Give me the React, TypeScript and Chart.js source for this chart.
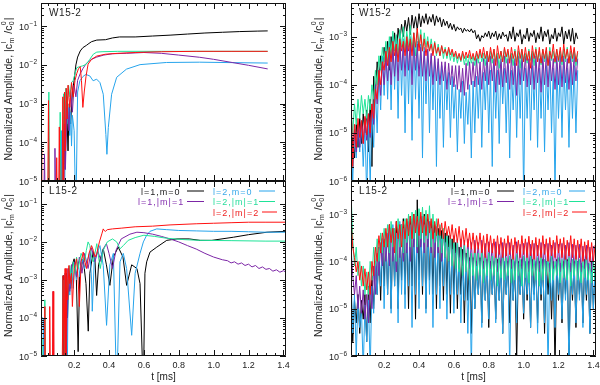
import React, { useEffect, useRef } from 'react';
import { Chart, registerables } from 'chart.js';

Chart.register(...registerables);

// ---------------- axes / labels ----------------
const X_MIN = 0.01;
const X_MAX = 1.415;
const X_TICKS = [0.2, 0.4, 0.6, 0.8, 1.0, 1.2, 1.4];
const X_TICK_LABELS = ['0.2', '0.4', '0.6', '0.8', '1.0', '1.2', '1.4'];
const X_TITLE = 't [ms]';
const Y_EXP_LEFT = [-1, -2, -3, -4, -5];
const Y_EXP_RIGHT = [-3, -4, -5, -6];
const Y_TITLE_MAIN = 'Normalized Amplitude, |c';
const SERIES_NAMES = ['l=1,m=0', 'l=2,m=0', 'l=1,|m|=1', 'l=2,|m|=1', 'l=2,|m|=2'];
const MODEL_NAMES = ['W15-2', 'L15-2'];

// ---------------- left column: W15-2 (top) [t, value] ----------------
const WL_L1M0: [number, number][] = [[0.13,1e-6],[0.14,3e-4],[0.148,2e-5],[0.157,9e-4],[0.165,6e-5],[0.172,1e-3],[0.18,3e-4],[0.19,2e-3],[0.2,4e-3],[0.21,1e-2],[0.22,1.6e-2],[0.235,2.3e-2],[0.25,2.8e-2],[0.27,3.2e-2],[0.285,3.6e-2],[0.3,4e-2],[0.33,4.4e-2],[0.38,4.5e-2],[0.42,5e-2],[0.46,5.3e-2],[0.55,5.3e-2],[0.65,5.6e-2],[0.75,5.9e-2],[0.85,6.3e-2],[0.95,6.7e-2],[1.05,7e-2],[1.15,7.3e-2],[1.25,7.5e-2],[1.31,7.6e-2]];
const WL_L2M0: [number, number][] = [[0.12,1e-6],[0.125,2e-4],[0.13,1e-6],[0.145,1e-6],[0.15,1.2e-3],[0.155,4e-4],[0.16,1e-3],[0.165,3e-4],[0.17,8e-4],[0.175,1.5e-4],[0.18,6e-4],[0.185,8e-5],[0.19,5e-4],[0.2,2e-4],[0.21,1e-6],[0.22,2e-3],[0.233,3.9e-3],[0.25,5e-3],[0.267,5.7e-3],[0.29,5.2e-3],[0.309,3.9e-3],[0.329,4.3e-3],[0.348,3.5e-3],[0.367,1.75e-3],[0.382,1.6e-4],[0.388,4.9e-5],[0.396,2.4e-4],[0.415,1.75e-3],[0.444,4.8e-3],[0.5,7.8e-3],[0.578,1.02e-2],[0.73,1.16e-2],[0.92,1.18e-2],[1.1,1.15e-2],[1.31,1.12e-2]];
const WL_L1M1: [number, number][] = [[0.025,1e-6],[0.03,5e-5],[0.035,1e-6],[0.085,1e-6],[0.09,7e-5],[0.095,1e-6],[0.14,1e-6],[0.145,5e-4],[0.15,2e-5],[0.16,1.5e-3],[0.17,2e-4],[0.18,2.2e-3],[0.19,6e-4],[0.2,3e-3],[0.21,1.5e-3],[0.22,4e-3],[0.235,6e-3],[0.25,8e-3],[0.27,1.1e-2],[0.3,1.4e-2],[0.33,1.6e-2],[0.37,1.8e-2],[0.42,1.95e-2],[0.5,2e-2],[0.6,2.1e-2],[0.7,2e-2],[0.8,1.8e-2],[0.92,1.58e-2],[1.0,1.4e-2],[1.11,1.15e-2],[1.2,9.8e-3],[1.31,7.9e-3]];
const WL_L2M1: [number, number][] = [[0.01,1e-6],[0.05,1e-6],[0.055,2e-3],[0.06,1e-6],[0.115,1e-6],[0.12,6e-4],[0.125,1e-6],[0.135,1e-6],[0.14,1.8e-3],[0.145,3e-4],[0.152,2.5e-3],[0.16,8e-4],[0.168,3e-3],[0.176,1.5e-3],[0.185,3.5e-3],[0.195,4e-3],[0.205,6e-3],[0.215,8.5e-3],[0.23,9e-3],[0.25,9.5e-3],[0.27,1.05e-2],[0.29,1.4e-2],[0.31,1.9e-2],[0.33,2.15e-2],[0.36,2.2e-2],[0.45,2.25e-2],[0.7,2.25e-2],[1.0,2.25e-2],[1.31,2.25e-2]];
const WL_L2M2: [number, number][] = [[0.01,7e-5],[0.014,1e-6],[0.048,1e-6],[0.053,1.2e-3],[0.058,1e-6],[0.095,1e-6],[0.1,4e-5],[0.105,1e-6],[0.11,1e-6],[0.115,2.5e-4],[0.12,1e-6],[0.13,1e-6],[0.135,1.5e-3],[0.14,1e-5],[0.145,2e-3],[0.15,6e-5],[0.155,2.5e-3],[0.16,4e-4],[0.165,3e-3],[0.175,8e-4],[0.185,3.5e-3],[0.195,1.5e-3],[0.205,4e-3],[0.215,6e-3],[0.225,8e-3],[0.235,9e-3],[0.242,4e-3],[0.25,8e-4],[0.258,2e-3],[0.268,5e-3],[0.28,1.05e-2],[0.3,1.4e-2],[0.33,1.7e-2],[0.38,1.9e-2],[0.45,2e-2],[0.55,2.1e-2],[0.7,2.2e-2],[0.9,2.25e-2],[1.1,2.25e-2],[1.31,2.25e-2]];

// ---------------- left column: L15-2 (bottom) [t, value] ----------------
const LL_L1M0: [number, number][] = [[0.01,1e-6],[0.133,1e-6],[0.137,1.3e-3],[0.141,1e-6],[0.152,1e-6],[0.156,1.5e-3],[0.162,1e-4],[0.17,2e-3],[0.18,6e-4],[0.19,2.5e-3],[0.2,3.6e-3],[0.212,1.5e-3],[0.223,1.3e-5],[0.232,1.5e-3],[0.252,3.6e-3],[0.268,8e-4],[0.281,4.5e-5],[0.29,1.5e-3],[0.309,5.4e-3],[0.32,3e-3],[0.329,3.9e-4],[0.34,2.5e-3],[0.367,6.6e-3],[0.385,2.5e-3],[0.405,7.2e-4],[0.425,4e-3],[0.453,7.3e-3],[0.48,4e-3],[0.501,7.2e-4],[0.53,2.5e-3],[0.56,2e-3],[0.578,8e-4],[0.597,1e-6],[0.606,1.5e-3],[0.616,3e-3],[0.635,5.4e-3],[0.674,7.3e-3],[0.731,1.1e-2],[0.79,1.2e-2],[0.86,1.2e-2],[0.922,1.1e-2],[0.99,1.1e-2],[1.114,1.33e-2],[1.2,1.55e-2],[1.306,1.8e-2],[1.415,1.9e-2]];
const LL_L2M0: [number, number][] = [[0.01,4e-5],[0.013,1e-4],[0.022,1e-4],[0.025,1e-6],[0.14,1e-6],[0.147,1e-3],[0.152,1e-6],[0.16,1e-6],[0.166,1.8e-3],[0.175,4e-4],[0.185,2.2e-3],[0.195,6e-4],[0.204,2.5e-3],[0.214,1e-3],[0.223,3e-3],[0.233,1.2e-3],[0.245,3.5e-3],[0.26,2e-3],[0.29,5.4e-3],[0.3,1e-3],[0.304,1.5e-4],[0.315,3e-3],[0.348,8e-3],[0.367,2.4e-3],[0.386,6.4e-5],[0.405,2.5e-3],[0.425,5e-3],[0.444,1e-6],[0.463,3e-3],[0.482,5e-3],[0.501,2e-3],[0.53,3.5e-5],[0.55,1.5e-3],[0.578,5e-3],[0.597,1e-2],[0.616,1.5e-2],[0.635,1.9e-2],[0.674,2.2e-2],[0.731,2.1e-2],[0.8,2e-2],[0.9,1.95e-2],[1.0,1.9e-2],[1.1,1.9e-2],[1.2,1.85e-2],[1.3,1.8e-2],[1.415,1.8e-2]];
const LL_L1M1: [number, number][] = [[0.01,1e-6],[0.075,1e-6],[0.08,5e-4],[0.085,1e-6],[0.14,1e-6],[0.148,1.5e-3],[0.155,1e-5],[0.165,2e-3],[0.175,5e-4],[0.185,2.5e-3],[0.2,3e-3],[0.214,1.2e-3],[0.23,4e-3],[0.245,1.5e-3],[0.26,5e-3],[0.28,2e-3],[0.3,7e-3],[0.32,3e-3],[0.335,6e-3],[0.355,3e-3],[0.37,7e-3],[0.385,9e-3],[0.4,5e-3],[0.42,2e-3],[0.44,6e-3],[0.47,1.2e-2],[0.52,1.6e-2],[0.56,1.8e-2],[0.6,1.75e-2],[0.65,1.6e-2],[0.7,1.4e-2],[0.75,1.2e-2],[0.8,1e-2],[0.85,8e-3],[0.9,6.5e-3],[0.95,5e-3],[1.0,4e-3],[1.05,3.4e-3],[1.08,3.2e-3],[1.1,2.8e-3],[1.12,3e-3],[1.14,2.6e-3],[1.16,2.8e-3],[1.18,2.4e-3],[1.2,2.6e-3],[1.22,2.2e-3],[1.24,2.4e-3],[1.26,2e-3],[1.28,2.2e-3],[1.3,1.9e-3],[1.32,2e-3],[1.34,1.7e-3],[1.36,1.85e-3],[1.38,1.6e-3],[1.4,1.75e-3],[1.415,1.6e-3]];
const LL_L2M1: [number, number][] = [[0.01,1e-6],[0.015,3e-5],[0.02,1e-6],[0.028,1e-6],[0.032,3e-4],[0.036,1e-6],[0.13,1e-6],[0.14,1e-3],[0.145,1e-5],[0.15,1.5e-3],[0.16,5e-4],[0.175,2.4e-3],[0.185,1e-3],[0.195,3e-3],[0.204,1.5e-3],[0.214,4e-3],[0.223,2e-3],[0.24,5e-3],[0.26,3e-3],[0.27,6e-3],[0.28,1e-2],[0.29,8e-3],[0.3,4e-3],[0.31,3e-3],[0.33,9e-3],[0.34,4e-3],[0.35,2e-3],[0.367,6e-3],[0.39,1e-2],[0.42,1.2e-2],[0.444,1e-2],[0.463,6.6e-3],[0.482,8e-3],[0.51,1.1e-2],[0.55,1.3e-2],[0.6,1.5e-2],[0.66,1.4e-2],[0.73,1.25e-2],[0.83,1.15e-2],[0.92,1.1e-2],[1.1,1.08e-2],[1.3,1.05e-2],[1.415,1.05e-2]];
const LL_L2M2: [number, number][] = [[0.01,1e-6],[0.028,1e-6],[0.032,2e-4],[0.036,1e-6],[0.056,1e-6],[0.06,2e-4],[0.064,1e-6],[0.075,1e-6],[0.079,5e-4],[0.083,1e-6],[0.13,1e-6],[0.137,1.3e-3],[0.142,1e-5],[0.148,2e-3],[0.152,1e-6],[0.158,2e-3],[0.163,3e-4],[0.17,2.4e-3],[0.175,8e-4],[0.185,1.5e-3],[0.19,2e-4],[0.2,2e-3],[0.214,3.6e-3],[0.223,1e-3],[0.23,2e-4],[0.24,3e-3],[0.252,5.4e-3],[0.262,3e-3],[0.271,2e-3],[0.285,5e-3],[0.3,8e-3],[0.31,6e-3],[0.32,4e-3],[0.33,5e-3],[0.345,1e-2],[0.36,1.7e-2],[0.367,2.2e-2],[0.372,2e-2],[0.38,1.9e-2],[0.39,2.1e-2],[0.42,2.2e-2],[0.47,2.3e-2],[0.55,2.5e-2],[0.65,2.6e-2],[0.75,2.8e-2],[0.9,3e-2],[1.0,3.1e-2],[1.1,3.2e-2],[1.2,3.3e-2],[1.3,3.3e-2],[1.415,3.3e-2]];

// ---------------- right column: sampled every 0.01 ms ----------------
const T_R = [0.01,0.02,0.03,0.04,0.05,0.06,0.07,0.08,0.09,0.10,
0.11,0.12,0.13,0.14,0.15,0.16,0.17,0.18,0.19,0.20,
0.21,0.22,0.23,0.24,0.25,0.26,0.27,0.28,0.29,0.30,
0.31,0.32,0.33,0.34,0.35,0.36,0.37,0.38,0.39,0.40,
0.41,0.42,0.43,0.44,0.45,0.46,0.47,0.48,0.49,0.50,
0.51,0.52,0.53,0.54,0.55,0.56,0.57,0.58,0.59,0.60,
0.61,0.62,0.63,0.64,0.65,0.66,0.67,0.68,0.69,0.70,
0.71,0.72,0.73,0.74,0.75,0.76,0.77,0.78,0.79,0.80,
0.81,0.82,0.83,0.84,0.85,0.86,0.87,0.88,0.89,0.90,
0.91,0.92,0.93,0.94,0.95,0.96,0.97,0.98,0.99,1.00,
1.01,1.02,1.03,1.04,1.05,1.06,1.07,1.08,1.09,1.10,
1.11,1.12,1.13,1.14,1.15,1.16,1.17,1.18,1.19,1.20,
1.21,1.22,1.23,1.24,1.25,1.26,1.27,1.28,1.29,1.30,
1.31,1.32,1.33,1.34,1.35,1.36,1.37,1.38,1.39,1.40,1.41];

// W15-2 right (to 1.31 ms)
const WR_L1M0 = [2e-6,8e-6,3e-6,1.5e-5,5e-6,2e-5,6e-6,2.5e-5,1e-5,3e-5,
4e-6,5e-5,2e-6,1.5e-4,6e-5,3e-4,1e-4,4e-4,2e-4,6e-4,
3e-4,8e-4,2e-4,1e-3,5e-4,1.2e-3,4e-4,1.5e-3,8e-4,1.8e-3,
1e-3,2.2e-3,1.3e-3,2.5e-3,1.1e-3,2.8e-3,1.5e-3,2.6e-3,1.4e-3,3e-3,
1.6e-3,2.7e-3,1.9e-3,3e-3,1.8e-3,2.6e-3,2e-3,2.9e-3,1.7e-3,2.7e-3,
2e-3,2.5e-3,1.6e-3,2.3e-3,1.7e-3,2.1e-3,1.5e-3,1.9e-3,1.4e-3,1.8e-3,
1.3e-3,1.6e-3,1.4e-3,1.5e-3,1.2e-3,1.5e-3,1.3e-3,1.4e-3,1.25e-3,1.45e-3,
1.2e-3,1.35e-3,9e-4,1.1e-3,8e-4,1.05e-3,9.5e-4,1.2e-3,1e-3,1.3e-3,
9e-4,1.2e-3,1e-3,1.3e-3,8.5e-4,1.15e-3,9e-4,1.25e-3,1e-3,1.1e-3,
8e-4,1.3e-3,9e-4,1.6e-3,8e-4,1.2e-3,1e-3,1.4e-3,7e-4,1.1e-3,
9e-4,1.5e-3,8e-4,1.2e-3,1e-3,1.35e-3,7.5e-4,1.2e-3,9e-4,1.6e-3,
8e-4,1.3e-3,1e-3,1.4e-3,7e-4,1.1e-3,9e-4,1.5e-3,8e-4,1.2e-3,
1e-3,1.6e-3,7e-4,1.3e-3,9e-4,1.4e-3,8e-4,1.5e-3,7e-4,1.2e-3,9e-4];
const WR_L2M0 = [8e-6,1e-6,1.2e-5,3e-6,1.5e-5,4e-6,1.6e-5,2e-6,1.4e-5,5e-7,
2e-5,8e-7,3e-5,5e-6,8e-5,1e-5,2e-4,3e-5,4e-4,6e-5,
6e-4,5e-5,8e-4,3e-5,1e-3,8e-5,9e-4,2e-5,1.2e-3,6e-5,
9e-4,1e-5,1.1e-3,4e-5,1e-3,7e-6,1.2e-3,5e-5,8e-4,2e-5,
7e-4,3e-6,6e-4,4e-5,5e-4,1e-5,4e-4,3e-5,3.5e-4,2e-6,
3e-4,2e-5,2.5e-4,5e-6,2e-4,3e-5,1.8e-4,8e-6,1.5e-4,2e-5,
1e-4,4e-6,8e-5,2e-5,1.2e-4,6e-6,7e-5,1.5e-5,1e-4,3e-6,
1.2e-4,1e-5,1.5e-4,2e-5,2e-4,5e-6,1.8e-4,3e-5,2.5e-4,1e-5,
2e-4,2e-6,2.5e-4,2e-5,2e-4,6e-6,3e-4,4e-5,2.2e-4,1e-5,
2.5e-4,3e-6,2e-4,3e-5,2.8e-4,8e-6,2.5e-4,2e-5,3e-4,5e-7,
2.2e-4,2e-5,2.8e-4,7e-6,2.5e-4,3e-5,3e-4,5e-6,2.2e-4,2e-5,
2.8e-4,4e-6,2.5e-4,3e-5,3e-4,1e-5,2.2e-4,6e-7,2.8e-4,2e-5,
2.5e-4,8e-6,3e-4,3e-5,2.2e-4,5e-6,2.8e-4,2e-5,2.5e-4,1e-5,2e-4];
const WR_L1M1 = [1e-5,3e-6,1.2e-5,4e-6,1.5e-5,5e-6,1.8e-5,6e-6,2e-5,7e-6,
2.5e-5,8e-6,4e-5,1.5e-5,1e-4,4e-5,2e-4,6e-5,3e-4,1e-4,
4e-4,1.2e-4,5e-4,1e-4,6e-4,1.5e-4,7e-4,1.2e-4,8e-4,2e-4,
7e-4,1.5e-4,9e-4,2e-4,8e-4,1e-4,9e-4,2e-4,7e-4,1.5e-4,
6e-4,1.5e-4,5e-4,1.2e-4,5.5e-4,1.5e-4,4.5e-4,1e-4,4e-4,1.2e-4,
3.5e-4,1e-4,3e-4,1.2e-4,3e-4,8e-5,2.8e-4,1e-4,2.5e-4,9e-5,
2.5e-4,8e-5,2.5e-4,7e-5,2.2e-4,6e-5,2.8e-4,8e-5,3e-4,1e-4,
3e-4,9e-5,3.5e-4,1e-4,3e-4,8e-5,3.5e-4,1.2e-4,4e-4,1e-4,
4e-4,1.2e-4,3.5e-4,7e-5,4e-4,1e-4,3.5e-4,9e-5,4e-4,1.1e-4,
3.5e-4,8e-5,4e-4,1e-4,3.5e-4,6e-5,4e-4,1e-4,4.5e-4,1.2e-4,
4e-4,9e-5,3.5e-4,1e-4,4.5e-4,8e-5,4e-4,1.1e-4,3.5e-4,7e-5,
4e-4,1e-4,4.5e-4,9e-5,4e-4,1.2e-4,3.5e-4,8e-5,4e-4,1e-4,
4.5e-4,9e-5,4e-4,1.1e-4,3.5e-4,8e-5,4e-4,1e-4,4.5e-4,1.2e-4,3.5e-4];
const WR_L2M1 = [3e-5,1e-5,4e-5,1.5e-5,5e-5,2e-5,6e-5,2.5e-5,5e-5,2e-5,
6e-5,3e-5,1e-4,5e-5,2e-4,1e-4,4e-4,2e-4,6e-4,3e-4,
8e-4,3e-4,1e-3,4e-4,1.3e-3,5e-4,1.1e-3,4e-4,1.4e-3,6e-4,
1.6e-3,5e-4,1.3e-3,6e-4,1.7e-3,5e-4,1.2e-3,4e-4,1.5e-3,6e-4,
1.4e-3,5e-4,1.2e-3,6e-4,1e-3,5e-4,9e-4,4.5e-4,8e-4,4e-4,
7e-4,4e-4,6.5e-4,3.5e-4,6e-4,3.5e-4,5.5e-4,3.2e-4,5e-4,3e-4,
4.5e-4,2.8e-4,4.2e-4,3e-4,4.5e-4,2.6e-4,4e-4,2.5e-4,4.2e-4,2.8e-4,
4e-4,2.5e-4,4.5e-4,2.8e-4,5e-4,3e-4,4.5e-4,2.5e-4,5e-4,3e-4,
5e-4,2.8e-4,5.5e-4,3e-4,4.5e-4,2.2e-4,5e-4,3e-4,5.5e-4,2.8e-4,
5e-4,3e-4,4.5e-4,2.5e-4,5.5e-4,3e-4,5e-4,2.2e-4,5.5e-4,3e-4,
4.5e-4,2.8e-4,5.5e-4,3.2e-4,5e-4,2.5e-4,6e-4,3e-4,5e-4,2.6e-4,
5.5e-4,3e-4,5e-4,2.5e-4,6e-4,3.2e-4,5e-4,2.8e-4,5.5e-4,3e-4,
5e-4,2.6e-4,5.5e-4,3e-4,6e-4,2.8e-4,5e-4,3e-4,5.5e-4,2.5e-4,4.5e-4];
const WR_L2M2 = [7e-5,2e-6,1.5e-5,5e-6,2e-5,8e-6,1.8e-5,6e-6,2.2e-5,9e-6,
2.5e-5,1e-5,4e-5,2e-5,8e-5,5e-5,2e-4,1e-4,3e-4,2e-4,
5e-4,2.5e-4,6e-4,3e-4,8e-4,4e-4,7e-4,3e-4,9e-4,5e-4,
8e-4,4e-4,1e-3,5e-4,9e-4,4e-4,1.2e-3,6e-4,1.5e-3,5e-4,
1.1e-3,5e-4,9e-4,4e-4,8e-4,5e-4,7e-4,4e-4,7.5e-4,4.5e-4,
6e-4,4e-4,6.5e-4,4.5e-4,5.5e-4,4e-4,6e-4,4.2e-4,5.5e-4,3.8e-4,
5e-4,3.5e-4,4.5e-4,3.2e-4,5e-4,3.5e-4,4.8e-4,3.6e-4,5.2e-4,3.4e-4,
4.5e-4,3.2e-4,5e-4,3.5e-4,5.5e-4,3.6e-4,6e-4,3.5e-4,5e-4,3e-4,
6e-4,3.5e-4,5.5e-4,2.5e-4,6.5e-4,3.5e-4,5e-4,3e-4,6e-4,3.8e-4,
5.5e-4,2.8e-4,6e-4,3.5e-4,5e-4,2.5e-4,6.5e-4,3.5e-4,5.5e-4,3e-4,
6e-4,3.2e-4,5e-4,2.2e-4,6.5e-4,3.5e-4,5.5e-4,3e-4,6e-4,2.8e-4,
5.5e-4,3.5e-4,6e-4,2.5e-4,5e-4,3.5e-4,7e-4,3e-4,5.5e-4,3.2e-4,
6e-4,3e-4,7e-4,3.5e-4,5.5e-4,2.8e-4,6.5e-4,3.5e-4,6e-4,3e-4,5e-4];

// L15-2 right (to 1.41 ms)
const LR_L1M0 = [3e-5,2e-6,1.5e-5,5e-6,2e-5,3e-6,1.5e-5,6e-6,2e-5,2e-6,
3e-5,5e-6,5e-5,1e-5,1e-4,2e-5,2e-4,1.5e-5,3e-4,3e-5,
4e-4,2e-5,6e-4,1e-5,5e-4,3e-5,7e-4,1e-5,6e-4,4e-5,
8e-4,2e-5,7e-4,1e-5,9e-4,3e-5,1e-3,6e-6,2e-3,4e-5,
9e-4,2e-5,1e-3,1e-5,8e-4,4e-5,7e-4,2e-5,6e-4,1e-5,
5e-4,3e-5,4.5e-4,1.5e-5,4e-4,2e-5,3.5e-4,8e-6,3e-4,2e-5,
2.5e-4,1e-5,2e-4,2e-5,1.8e-4,5e-6,1.5e-4,1.5e-5,1.2e-4,3e-6,
1.2e-4,1e-5,1e-4,2e-5,1.2e-4,5e-6,1e-4,1.5e-5,1.1e-4,4e-6,
1e-4,2e-5,9e-5,6e-6,1.1e-4,1.5e-5,1e-4,3e-6,9e-5,2e-5,
1e-4,5e-6,1.1e-4,1.5e-5,9e-5,8e-7,1e-4,2e-5,1.1e-4,6e-6,
9e-5,1.5e-5,1e-4,4e-6,1.1e-4,2e-5,9e-5,5e-6,1e-4,1.5e-5,
1.1e-4,3e-6,1e-4,2e-5,9e-5,6e-6,1e-4,5e-7,1.1e-4,1.5e-5,
9e-5,5e-6,1e-4,2e-5,1.1e-4,8e-7,9e-5,1.5e-5,1e-4,4e-6,
1e-4,2e-5,9e-5,5e-6,1.1e-4,1.5e-5,9e-5,3e-6,1e-4,1e-5,8e-5];
const LR_L2M0 = [5e-5,3e-6,2e-5,1e-6,1.5e-5,4e-6,1e-5,5e-7,1.2e-5,2e-6,
1.5e-5,5e-7,3e-5,8e-6,1e-4,2e-5,2e-4,3e-5,3e-4,1e-5,
4e-4,2e-5,5e-4,8e-6,6e-4,3e-5,4e-4,5e-6,7e-4,2e-5,
5e-4,1e-5,8e-4,3e-5,6e-4,4e-6,9e-4,2e-5,7e-4,1e-5,
8e-4,3e-5,6e-4,8e-6,7e-4,2e-5,5e-4,4e-6,4e-4,2e-5,
3.5e-4,1e-5,3e-4,3e-5,2.5e-4,6e-6,2e-4,2e-5,1.8e-4,8e-6,
1.5e-4,2e-5,1.2e-4,5e-6,1e-4,1.5e-5,1.2e-4,3e-6,1e-4,5e-7,
1e-4,1e-5,8e-5,2e-5,1e-4,4e-6,9e-5,1.5e-5,1e-4,6e-6,
8e-5,2e-5,1e-4,5e-6,9e-5,1.5e-5,8e-5,3e-6,1e-4,2e-5,
9e-5,6e-7,8e-5,1.5e-5,1e-4,5e-6,9e-5,2e-5,8e-5,8e-6,
1e-4,2e-5,9e-5,4e-6,8e-5,1.5e-5,1e-4,3e-6,9e-5,2e-5,
8e-5,5e-6,1e-4,5e-7,9e-5,1.5e-5,8e-5,4e-6,1e-4,2e-5,
9e-5,6e-6,8e-5,1.5e-5,1e-4,5e-7,9e-5,2e-5,8e-5,5e-6,
1e-4,1.5e-5,9e-5,4e-6,8e-5,2e-5,9e-5,3e-6,8e-5,1e-5,7e-5];
const LR_L1M1 = [2e-4,5e-5,2e-5,5e-5,1e-5,3e-5,8e-6,2.5e-5,6e-6,2e-5,
5e-6,3e-5,1e-5,8e-5,2e-5,1.5e-4,5e-5,2.5e-4,8e-5,3e-4,
1e-4,4e-4,8e-5,5e-4,1e-4,4.5e-4,6e-5,5e-4,1.2e-4,6e-4,
1e-4,6e-4,1.5e-4,7e-4,1e-4,8e-4,2e-4,9e-4,1.5e-4,8e-4,
2e-4,9e-4,1.5e-4,8e-4,2e-4,7e-4,1.5e-4,6e-4,1.2e-4,5.5e-4,
1.5e-4,5e-4,1e-4,4.5e-4,1.2e-4,4e-4,1e-4,3.5e-4,8e-5,3.5e-4,
9e-5,3e-4,7e-5,3e-4,8e-5,2.8e-4,6e-5,3e-4,7e-5,2.5e-4,
6e-5,2.8e-4,8e-5,2.5e-4,5e-5,2.8e-4,7e-5,2.4e-4,6e-5,2.6e-4,
7e-5,2.4e-4,5e-5,2.6e-4,6e-5,2.3e-4,7e-5,2.5e-4,5e-5,2.4e-4,
6e-5,2.5e-4,7e-5,2.2e-4,5e-5,2.6e-4,6e-5,2.3e-4,7e-5,2.4e-4,
5e-5,2.5e-4,6e-5,2.3e-4,7e-5,2.4e-4,5e-5,2.2e-4,6e-5,2.5e-4,
7e-5,2.3e-4,5e-5,2.4e-4,6e-5,2.2e-4,7e-5,2.5e-4,5e-5,2.3e-4,
6e-5,2.4e-4,7e-5,2.2e-4,5e-5,2.5e-4,6e-5,2.3e-4,7e-5,2.2e-4,
5e-5,2.3e-4,6e-5,2.1e-4,7e-5,2.2e-4,5e-5,2e-4,6e-5,2.1e-4,1.8e-4];
const LR_L2M1 = [3e-3,3e-4,8e-5,2e-4,5e-5,1e-4,3e-5,8e-5,2e-5,6e-5,
2e-5,1e-4,4e-5,2e-4,8e-5,3e-4,1e-4,4e-4,1.5e-4,5e-4,
2e-4,6e-4,1.5e-4,7e-4,2e-4,5e-4,1e-4,8e-4,2e-4,6e-4,
1.5e-4,8e-4,2.5e-4,1e-3,2e-4,1.1e-3,3e-4,1.2e-3,2e-4,1.3e-3,
3e-4,1.4e-3,2.5e-4,1.2e-3,3e-4,1.5e-3,2e-4,1e-3,2.5e-4,8e-4,
2e-4,6e-4,1.5e-4,5e-4,1.2e-4,4e-4,1e-4,3.5e-4,8e-5,3e-4,
7e-5,2.5e-4,6e-5,2e-4,5e-5,2.2e-4,6e-5,1.8e-4,4e-5,1.5e-4,
5e-5,1.8e-4,4e-5,1.5e-4,5e-5,1.6e-4,3.5e-5,1.4e-4,5e-5,1.5e-4,
4e-5,1.3e-4,5e-5,1.5e-4,3e-5,1.2e-4,4.5e-5,1.4e-4,4e-5,1.2e-4,
5e-5,1.3e-4,3.5e-5,1.2e-4,4e-5,1.4e-4,5e-5,1.1e-4,3e-5,1.3e-4,
4.5e-5,1.2e-4,3.5e-5,1.3e-4,5e-5,1.1e-4,4e-5,1.2e-4,3e-5,1.3e-4,
4e-5,1.1e-4,5e-5,1.2e-4,3.5e-5,1.3e-4,4e-5,1e-4,5e-5,1.2e-4,
3.5e-5,1.1e-4,4.5e-5,1.3e-4,4e-5,1.2e-4,3e-5,1.1e-4,5e-5,1.2e-4,
4e-5,1.1e-4,3.5e-5,1e-4,4.5e-5,1.2e-4,4e-5,9e-5,3.5e-5,1e-4,4e-5];
const LR_L2M2 = [8e-4,2e-4,1.2e-4,6e-5,1e-4,4e-5,8e-5,3e-5,7e-5,2.5e-5,
6e-5,2e-5,1e-4,5e-5,2e-4,1e-4,3.5e-4,1.5e-4,4e-4,2e-4,
5e-4,2e-4,6e-4,2.5e-4,5e-4,1.5e-4,7e-4,3e-4,6e-4,2e-4,
7e-4,3e-4,8e-4,3.5e-4,9e-4,3e-4,1e-3,4e-4,9e-4,3.5e-4,
1.1e-3,4e-4,9e-4,3.5e-4,1e-3,4e-4,8e-4,3e-4,7e-4,3.5e-4,
8e-4,3.5e-4,6.5e-4,3e-4,7e-4,3.5e-4,5.5e-4,3e-4,6e-4,2.5e-4,
5e-4,2.5e-4,5.5e-4,2e-4,4.5e-4,2.2e-4,5e-4,2e-4,4e-4,1.8e-4,
4e-4,1.5e-4,3.5e-4,1.8e-4,4e-4,1.5e-4,3.5e-4,1.2e-4,3.8e-4,1.6e-4,
3.5e-4,1.5e-4,3e-4,1.2e-4,3.5e-4,1.4e-4,3.2e-4,1.2e-4,3e-4,1.3e-4,
3.5e-4,1.4e-4,3e-4,1.1e-4,3.2e-4,1.5e-4,2.8e-4,1.2e-4,3.5e-4,1.4e-4,
3e-4,1.2e-4,3.4e-4,1.3e-4,2.8e-4,1.1e-4,3.2e-4,1.3e-4,3e-4,1.2e-4,
3.5e-4,1.4e-4,3e-4,1e-4,3.2e-4,1.3e-4,2.8e-4,1.2e-4,3.5e-4,1.5e-4,
3e-4,1.2e-4,3.2e-4,1.1e-4,2.8e-4,1.3e-4,3.5e-4,1.2e-4,3e-4,1.1e-4,
2.8e-4,1.2e-4,3e-4,1e-4,2.6e-4,1.1e-4,2.8e-4,1e-4,2.5e-4,1e-4,2.2e-4];

// ---------------- styles ----------------
const LINE_COLORS = ['#000000', '#26a4ec', '#7c26a6', '#1fe398', '#ff1010'];
const TEXT_COLORS = ['#222222', '#3aa9ea', '#8533b0', '#27dd9c', '#ee2222'];
const TEXT = '#222';
const FONT = '"Liberation Sans", Arial, sans-serif';

type Pair = [number, number];
type Panel = {
  key: string; name: string; left: number; right: number; top: number; bottom: number;
  yMin: number; yMax: number; yExp: number[]; xLabels: boolean; legend: boolean;
  series: { x: number; y: number }[][];
};

const fromPairs = (p: Pair[]) => p.map(([x, y]) => ({ x, y }));
const fromSampled = (v: number[]) => v.map((y, i) => ({ x: T_R[i], y })).filter((d) => d.x !== undefined);

// series order in each panel: l=1,m=0 | l=2,m=0 | l=1,|m|=1 | l=2,|m|=1 | l=2,|m|=2
const PANELS: Panel[] = [
  { key: 'WL', name: MODEL_NAMES[0], left: 41, right: 286, top: 3, bottom: 181, yMin: 1e-5, yMax: 0.4, yExp: Y_EXP_LEFT, xLabels: false, legend: false,
    series: [WL_L1M0, WL_L2M0, WL_L1M1, WL_L2M1, WL_L2M2].map(fromPairs) },
  { key: 'LL', name: MODEL_NAMES[1], left: 41, right: 286, top: 181, bottom: 356, yMin: 1e-5, yMax: 0.4, yExp: Y_EXP_LEFT, xLabels: true, legend: true,
    series: [LL_L1M0, LL_L2M0, LL_L1M1, LL_L2M1, LL_L2M2].map(fromPairs) },
  { key: 'WR', name: MODEL_NAMES[0], left: 351, right: 596, top: 3, bottom: 181, yMin: 1e-6, yMax: 5e-3, yExp: Y_EXP_RIGHT, xLabels: false, legend: false,
    series: [WR_L1M0, WR_L2M0, WR_L1M1, WR_L2M1, WR_L2M2].map(fromSampled) },
  { key: 'LR', name: MODEL_NAMES[1], left: 351, right: 596, top: 181, bottom: 356, yMin: 1e-6, yMax: 5e-3, yExp: Y_EXP_RIGHT, xLabels: true, legend: true,
    series: [LR_L1M0, LR_L2M0, LR_L1M1, LR_L2M1, LR_L2M2].map(fromSampled) },
];

// legend layout: [series index, text x offset, line start offset, line end offset, row]
const LEGEND_ITEMS: [number, number, number, number, number][] = [
  [0, 100, 146, 163, 0], [1, 172, 218, 234, 0],
  [2, 97, 146, 163, 1], [3, 172, 218, 234, 1],
  [4, 172, 221, 236, 2],
];

function makeDeco(p: Panel) {
  return {
    id: 'deco' + p.key,
    afterDatasetsDraw(chart: any) {
      const { ctx, chartArea: a } = chart;
      const xs = chart.scales.x;
      const ys = chart.scales.y;
      ctx.save();
      // frame
      ctx.strokeStyle = '#111';
      ctx.lineWidth = 1;
      ctx.beginPath();
      ctx.rect(a.left + 0.5, a.top + 0.5, a.right - a.left - 1, a.bottom - a.top - 1);
      ctx.stroke();
      // ticks
      ctx.beginPath();
      for (let k = 1; k * 0.05 <= X_MAX; k++) {
        const v = k * 0.05;
        if (v < X_MIN) continue;
        const px = Math.round(xs.getPixelForValue(v)) + 0.5;
        const len = k % 4 === 0 ? 6 : 3;
        ctx.moveTo(px, a.bottom); ctx.lineTo(px, a.bottom - len);
        ctx.moveTo(px, a.top); ctx.lineTo(px, a.top + len);
      }
      const lo = Math.floor(Math.log10(p.yMin));
      const hi = Math.ceil(Math.log10(p.yMax));
      for (let e = lo; e <= hi; e++) {
        for (let m = 1; m <= 9; m++) {
          const v = m * Math.pow(10, e);
          if (v < p.yMin * 0.999 || v > p.yMax) continue;
          const py = Math.round(ys.getPixelForValue(v)) + 0.5;
          const len = m === 1 ? 6 : 3;
          ctx.moveTo(a.left, py); ctx.lineTo(a.left + len, py);
          ctx.moveTo(a.right, py); ctx.lineTo(a.right - len, py);
        }
      }
      ctx.stroke();

      ctx.fillStyle = TEXT;
      // y tick labels 10^e
      for (const e of p.yExp) {
        const py = ys.getPixelForValue(Math.pow(10, e));
        const sup = '\u2212' + String(-e);
        ctx.textAlign = 'right';
        ctx.textBaseline = 'alphabetic';
        ctx.font = `6.5px ${FONT}`;
        const sw = ctx.measureText(sup).width;
        ctx.fillText(sup, a.left - 4, py - 0.5);
        ctx.font = `9px ${FONT}`;
        ctx.fillText('10', a.left - 4.5 - sw, py + 3.5);
      }
      // y title with super/subscripts
      ctx.save();
      ctx.translate(a.left - 33, (a.top + a.bottom) / 2 - 3);
      ctx.rotate(-Math.PI / 2);
      const F = `10.5px ${FONT}`;
      const FS = `7px ${FONT}`;
      const segs: any[] = [
        { t: Y_TITLE_MAIN }, { sup: 'l', sub: 'm' }, { t: ' /c' }, { sup: '0', sub: '0' }, { t: '|' },
      ];
      let total = 0;
      for (const s of segs) {
        if (s.t) { ctx.font = F; s.w = ctx.measureText(s.t).width; }
        else { ctx.font = FS; s.w = Math.max(ctx.measureText(s.sup).width, ctx.measureText(s.sub).width) + 1.5; }
        total += s.w;
      }
      let cx = -total / 2;
      ctx.textAlign = 'left';
      ctx.textBaseline = 'alphabetic';
      for (const s of segs) {
        if (s.t) { ctx.font = F; ctx.fillText(s.t, cx, 3.8); }
        else { ctx.font = FS; ctx.fillText(s.sup, cx + 0.4, -1.8); ctx.fillText(s.sub, cx + 0.4, 6.2); }
        cx += s.w;
      }
      ctx.restore();

      // x labels
      if (p.xLabels) {
        ctx.font = `9px ${FONT}`;
        ctx.textAlign = 'center';
        ctx.textBaseline = 'alphabetic';
        X_TICKS.forEach((t, i) => {
          ctx.fillText(X_TICK_LABELS[i], xs.getPixelForValue(t), a.bottom + 12);
        });
        ctx.font = `10px ${FONT}`;
        ctx.fillText(X_TITLE, (a.left + a.right) / 2, a.bottom + 24);
      }
      // panel name
      ctx.font = `10px ${FONT}`;
      (ctx as any).letterSpacing = '0.6px';
      ctx.textAlign = 'left';
      ctx.textBaseline = 'middle';
      ctx.fillText(p.name, a.left + 8, a.top + 10);
      (ctx as any).letterSpacing = '0px';

      // legend
      if (p.legend) {
        ctx.font = `9px ${FONT}`;
        (ctx as any).letterSpacing = '1px';
        ctx.textBaseline = 'alphabetic';
        ctx.textAlign = 'left';
        for (const [si, tx, l0, l1, row] of LEGEND_ITEMS) {
          const yb = a.top + 13.5 + row * 10.5;
          ctx.fillStyle = TEXT_COLORS[si];
          ctx.fillText(SERIES_NAMES[si], a.left + tx, yb);
          ctx.strokeStyle = LINE_COLORS[si];
          ctx.beginPath();
          ctx.moveTo(a.left + l0, yb - 3.5);
          ctx.lineTo(a.left + l1, yb - 3.5);
          ctx.stroke();
        }
        (ctx as any).letterSpacing = '0px';
      }
      ctx.restore();
    },
  };
}

function PanelChart({ p }: { p: Panel }) {
  const ref = useRef<HTMLCanvasElement>(null);
  useEffect(() => {
    if (!ref.current) return;
    const drawOrder = [4, 3, 2, 1, 0]; // red on top, black underneath
    const chart = new Chart(ref.current, {
      type: 'line',
      data: {
        datasets: drawOrder.map((si) => ({
          label: SERIES_NAMES[si],
          data: p.series[si],
          borderColor: LINE_COLORS[si],
          borderWidth: 1,
          pointRadius: 0,
          fill: false,
          tension: 0,
          clip: 0,
        })),
      },
      options: {
        animation: false,
        responsive: false,
        events: [],
        parsing: false,
        layout: { padding: { left: p.left, top: p.top, right: 600 - p.right, bottom: 385 - p.bottom } },
        scales: {
          x: { type: 'linear', min: X_MIN, max: X_MAX, display: false },
          y: { type: 'logarithmic', min: p.yMin, max: p.yMax, display: false },
        },
        plugins: { legend: { display: false }, tooltip: { enabled: false } },
      } as any,
      plugins: [makeDeco(p)],
    });
    return () => chart.destroy();
  }, [p]);
  return (
    <canvas
      ref={ref}
      width={600}
      height={385}
      style={{ position: 'absolute', left: 0, top: 0, width: 600, height: 385 }}
    />
  );
}

export default function App() {
  return (
    <div style={{ position: 'fixed', left: 0, top: 0, width: 600, height: 385, background: '#fff', overflow: 'hidden' }}>
      {PANELS.map((p) => (
        <PanelChart key={p.key} p={p} />
      ))}
    </div>
  );
}
